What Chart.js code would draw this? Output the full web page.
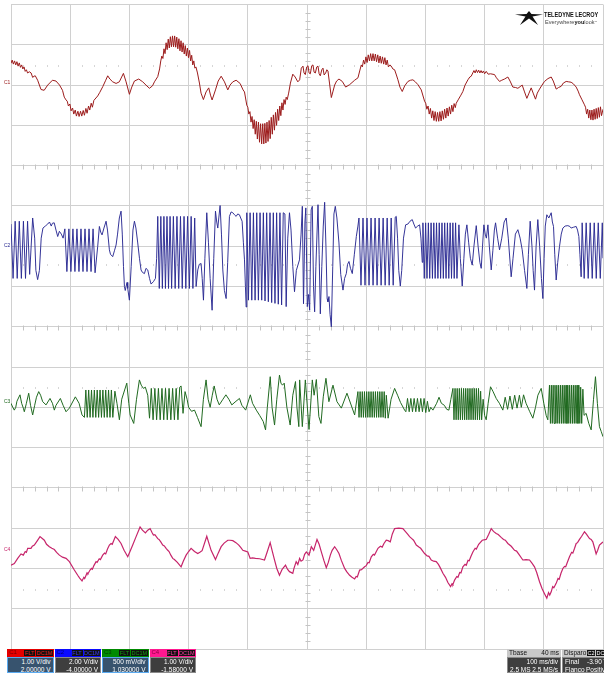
<!DOCTYPE html>
<html><head><meta charset="utf-8">
<script src="https://cdn.jsdelivr.net/npm/chart.js@4.4.1/dist/chart.umd.min.js"></script>
<style>
html,body{margin:0;padding:0;background:#fff;width:604px;height:675px;overflow:hidden;font-family:"Liberation Sans",Arial,sans-serif;}
#wrap{position:absolute;left:0;top:0;width:604px;height:652px;}
.chl{position:absolute;left:4px;font-size:5px;line-height:5px;}
.box{position:absolute;top:649px;height:25px;}
.hd{position:absolute;left:0;right:0;top:0;height:7.5px;font-size:6px;line-height:7.5px;}
.hd .cn{position:absolute;left:2px;top:0;}
.hd .tag{position:absolute;top:0.5px;height:6.5px;line-height:6.5px;background:#111;text-align:center;font-size:5.5px;}
.bd{position:absolute;left:0;right:0;top:7.5px;height:16px;color:#fff;font-size:6.5px;line-height:7.5px;box-sizing:border-box;padding:0.5px 2px 0 2px;}
.bd .r{text-align:right;}
.row{position:relative;height:7.5px;}
.row .l{position:absolute;left:0;}
.row .rr{position:absolute;right:0;}
#logo{position:absolute;left:515px;top:11px;width:90px;height:16px;}
#logo .t1{position:absolute;left:29px;top:0;font-weight:bold;font-size:7.5px;line-height:7.5px;color:#111;transform:scaleX(0.74);transform-origin:left top;white-space:nowrap;}
#logo .t2{position:absolute;left:30px;top:7.5px;font-size:6.2px;line-height:6.5px;color:#444;white-space:nowrap;transform:scaleX(0.9);transform-origin:left top;}
</style>
</head>
<body>
<div id="wrap"><canvas id="c" width="604" height="652"></canvas></div>
<div id="labels"></div>
<div id="logo">
<svg width="28" height="15" viewBox="0 0 28 15" style="position:absolute;left:0;top:0">
<polygon fill="#111" points="14,0 16.5,3 28,3.6 17.5,5.6 23,14 14,7.5 5,14 10.5,5.6 0,3.6 11.5,3"/>
</svg>
<div class="t1">TELEDYNE LECROY</div>
<div class="t2">Everywhere<b style="color:#111">you</b>look<span style="font-size:3px;vertical-align:top">™</span></div>
</div>
<div id="boxes"></div>
<script>
// ---- channel settings (text in the info boxes) ----
const channelNames = ['C1', 'C2', 'C3', 'C4'];
const voltsPerDiv = ['1.00 V/div', '2.00 V/div', '500 mV/div', '1.00 V/div'];
const offsets = ['2.00000 V', '-4.00000 V', '1.030000 V', '-1.58000 V'];
const coupling = ['FLT', 'DC1M'];
const timebase = ['Tbase', '40 ms', '100 ms/div', '2.5 MS', '2.5 MS/s'];
const trigger = ['Disparo', 'C2', 'DC', 'Final', '-3.90 V', 'Flanco', 'Positivo'];

// ---- traces: [time ms, level in divisions from the channel's centre line] ----
const c1 = [
[0,0.54],[2,0.62],[4,0.52],[6,0.6],[8,0.5],[10,0.58],[12,0.47],[14,0.55],[16,0.44],[18,0.5],[20,0.4],[22,0.45],[24,0.34],[26,0.38],[28,0.3],[31,0.33],[34,0.3],[36.6,0.19],[39,0.22],[41,0.23],[45,0.12],[50.7,-0.11],[56,-0.13],[62,0],[70,0.12],[76,0.1],[82,0],[87,-0.13],[90,-0.3],[93,-0.37],
[95,-0.4],[97,-0.52],[99.5,-0.47],[101.5,-0.64],[104,-0.57],[106,-0.72],[108.5,-0.62],[110.5,-0.77],[113,-0.65],[115,-0.78],[117.5,-0.65],[119.5,-0.77],[122,-0.63],[124,-0.75],[126.5,-0.58],[128.5,-0.7],[131,-0.52],[133,-0.62],[135.5,-0.45],[137.5,-0.55],[140,-0.38],
[146.5,-0.27],[150,-0.18],[155,-0.04],[160,0.12],[163.4,0.23],[167,0.15],[171.8,0.08],[177.5,0.04],[183,0.08],[189.9,0.29],[194.4,0.08],[200,-0.23],[204,-0.05],[208.5,0.1],[215.8,0.15],[222.5,0.08],[228,0],[233.8,-0.08],[239,-0.02],[242.3,0.08],[247.9,0.21],[251,0.4],
[253,0.6],[254.8,0.72],[256.6,0.66],[258.4,0.9],[260.2,0.78],[262,1.05],[263.8,0.88],[265.6,1.14],[267.4,0.92],[269.2,1.2],[271,0.95],[272.8,1.22],[274.6,0.95],[276.4,1.22],[278.2,0.94],[280,1.19],[281.8,0.9],[283.6,1.15],[285.4,0.85],[287.2,1.1],[289,0.82],[290.8,1.05],[292.6,0.77],[294.4,0.98],[296.2,0.72],[298,0.92],[299.8,0.68],[301.6,0.86],[303.4,0.6],[305.2,0.74],[307,0.5],[308.8,0.6],[310.6,0.42],[312.4,0.45],
[315,0.3],[318.3,0.05],[321,-0.2],[325,-0.36],[329.5,-0.17],[334,-0.07],[337,-0.25],[339.7,-0.37],[345.4,-0.12],[350,0.1],[355,0.22],[360.6,0.08],[366.2,-0.12],[370,0],[374.7,0.08],[380.3,0.12],[387,0.04],[392,-0.12],[394.4,-0.17],[398.3,-0.5],
[400,-0.55],[401.8,-0.72],[403.6,-0.66],[405.4,-0.92],[407.2,-0.78],[409,-1.08],[410.8,-0.86],[412.6,-1.22],[414.4,-0.9],[416.2,-1.34],[418,-0.92],[419.8,-1.42],[421.6,-0.96],[423.4,-1.46],[425.2,-0.96],[427,-1.46],[428.8,-0.95],[430.6,-1.44],[432.4,-0.92],[434.2,-1.4],[436,-0.88],[437.8,-1.33],[439.6,-0.8],[441.4,-1.22],[443.2,-0.74],[445,-1.12],[446.8,-0.68],[448.6,-1.0],[450.4,-0.6],[452.2,-0.88],[454,-0.52],[455.8,-0.76],[457.6,-0.44],[459.4,-0.62],[461.2,-0.36],[463,-0.48],[464.8,-0.3],[466.6,-0.36],
[469,-0.2],[472,0.05],[476,0.27],[480,0.2],[484.5,0.08],[487.6,0.13],
[490.4,0.42],[493.2,0.47],[495,0.3],[497.2,0.26],[499.5,0.45],[501.7,0.48],[503.5,0.3],[505.6,0.28],[508,0.48],[510.1,0.5],[512,0.32],[514.1,0.3],[516.5,0.45],[518.6,0.47],[520.5,0.28],[522.5,0.23],[525,0.38],[527,0.42],[529,0.25],[531.5,0.3],[533.5,0.38],[535.4,0.35],[538,0.05],[541.1,-0.31],[544,-0.15],[546.7,0.0],[550,0.1],[554,0.15],[559.6,0.09],[565.3,-0.05],[572,0.01],[580.5,0.12],[586.1,0.18],[589,0.35],[591.7,0.5],
[593.5,0.45],[595.5,0.62],[597.5,0.52],[599.5,0.7],[601.5,0.56],[603.5,0.75],[605.5,0.6],[607.5,0.78],[609.5,0.6],[611.5,0.78],[613.5,0.6],[615.5,0.77],[617.5,0.58],[619.5,0.75],[621.5,0.55],[623.5,0.72],[625.5,0.54],[627.5,0.7],[629.5,0.52],[631.5,0.68],[633.5,0.5],[635.5,0.62],[637.5,0.45],[640,0.5],
[642.4,0.47],[645,0.4],[648,0.38],[651,0.25],[653.6,0.13],[657,-0.05],[660.9,-0.16],[665,-0.02],[670.5,0.09],[675,0.12],[678.9,0.13],[683,0.08],[687.4,0.01],[693,-0.12],[698.6,-0.4],
[700.5,-0.45],[702.5,-0.6],[704.5,-0.52],[706.5,-0.72],[708.5,-0.58],[710.5,-0.82],[712.5,-0.64],[714.5,-0.88],[716.5,-0.66],[718.5,-0.9],[720.5,-0.68],[722.5,-0.9],[724.5,-0.66],[726.5,-0.89],[728.5,-0.64],[730.5,-0.85],[732.5,-0.6],[734.5,-0.82],[736.5,-0.57],[738.5,-0.77],[740.5,-0.54],[742.5,-0.72],[744.5,-0.5],[746.5,-0.66],[748.5,-0.46],[750.5,-0.56],[752.1,-0.45],
[756,-0.35],[760,-0.25],[763.3,-0.16],[767,0.0],[771.8,0.13],[775,0.2],[777.4,0.22],
[780,0.3],[782,0.36],[784,0.3],[786,0.38],[788,0.31],[790,0.37],[792,0.3],[794,0.36],[796,0.3],[798,0.35],[800,0.28],[802.7,0.34],[806,0.27],[810,0.28],[816.8,0.26],[820,0.18],[825.2,0.09],[829,0.12],[833.7,0.15],[839.3,0.2],[843,0.1],[847.7,-0.05],[852,-0.06],[856.2,-0.08],[860,-0.04],[863.5,0.0],[867,-0.15],[871.4,-0.33],[875,-0.2],[878.7,-0.07],[882,-0.2],[886,-0.35],[889,-0.2],[892.8,-0.1],[897,0.0],[901.2,0.09],[907,0.16],[912.5,0.2],[916,0.1],[921,-0.1],[925,-0.06],[929.4,-0.03],[933,0.05],[937.8,0.09],[942,0.08],[946.2,0.07],[950,0.03],[954.7,-0.05],[958,-0.15],[960.3,-0.24],[964,-0.35],[968.7,-0.49],
[970.5,-0.55],[972.3,-0.72],[974.1,-0.6],[975.9,-0.82],[977.7,-0.62],[979.5,-0.86],[981.3,-0.62],[983.1,-0.87],[984.9,-0.6],[986.7,-0.85],[988.5,-0.58],[990.3,-0.83],[992.1,-0.56],[993.9,-0.8],[995.7,-0.54],[997.5,-0.76],[1000,-0.6]
];

const c2 = [
[0,0.55],[3.5,-0.8],[7,0.62],[10.5,-0.8],[14,0.62],[17.5,-0.8],[21,0.62],[24.5,-0.8],[28,0.62],[31.5,-0.7],[36.6,0.7],[40,0.2],[42,-0.6],[45,-0.83],[48,-0.6],[51,0.2],[54,0.45],[58,0.5],[62,0.55],[65,0.6],[68,0.5],[70,0.57],[73,0.58],[76,0.4],[78.9,0.24],[81.7,0.37],[85,0.3],[88,0.2],[91,0.43],
[94.4,-0.63],[97.8,0.43],[101.2,-0.63],[104.6,0.43],[108,-0.63],[111.4,0.43],[114.8,-0.63],[118.2,0.43],[121.6,-0.63],[125,0.43],[128.4,-0.63],[131.8,0.43],[135.2,-0.63],[138.6,0.43],[142,-0.66],
[146.5,0.0],[149.3,0.49],[151.5,0.35],[153.8,0.28],[157,0.45],[160.6,0.62],[163,0.4],[166.2,-0.09],[168,-0.2],[171.8,-0.26],[175,-0.1],[177.5,0.03],[180,0.3],[183,0.7],[185.9,0.87],[188,0.3],[190,-0.5],[191.6,-1.0],[193,-1.1],[194.4,-1.0],[196,-0.9],[197.2,-1.05],[200,-1.34],[203,-0.5],[206,0.4],[208.5,0.62],[211,0.45],[214.1,0.08],[217,-0.3],[219.7,-0.59],[222,-0.65],[225.4,-0.68],[228,-0.55],[231,-0.59],[234,-0.8],[236.6,-0.94],[240.6,-0.88],[244,-0.8],[246,-0.3],[247.9,0.74],
[250.5,-1.05],[253.1,0.74],[255.7,-1.05],[258.3,0.74],[260.9,-1.05],[263.5,0.74],[266.1,-1.05],[268.7,0.74],[271.3,-1.05],[274.3,0.74],[277.3,-1.05],[280.3,0.74],[283.3,-1.05],[286.3,0.74],[289.3,-1.05],[292.3,0.74],[295.3,-1.05],[298.3,0.74],[301.3,-1.05],[304.3,0.74],[307.3,-1.05],[310.3,0.7],[312.7,-1.0],
[315.5,-0.59],[318,-0.45],[321.1,-0.43],[323,-0.8],[325.1,-1.34],[327.5,-0.3],[330.7,0.83],[333.5,0.1],[336.4,-0.8],[339.7,-1.59],[342.5,-0.3],[345.4,0.87],[347.5,0.6],[349.3,0.45],[351,0.7],[353.2,1.01],[355.5,0.3],[357.8,-0.59],[360.5,-1.1],[363.4,-1.3],[366,-0.4],[369,0.74],[371.8,0.85],[374.7,0.83],[377.5,0.78],[380.3,0.74],[383,0.8],[385.9,0.78],[388,0.7],[390.4,0.62],[392.5,0.1],[394.4,-0.34],[396,-1.0],[397.2,-1.51],
[398.3,0.83],[401.1,-1.34],[403.9,0.83],[406.7,-1.34],[409.5,0.83],[412.3,-1.34],[415.1,0.83],[417.9,-1.34],[420.7,0.83],[423.5,-1.34],[426.3,0.83],[429.1,-1.36],[431.9,0.83],[434.7,-1.38],[437.5,0.83],[440.3,-1.4],[443.1,0.83],[445.9,-1.42],[448.7,0.83],[451.5,-1.44],[454.3,0.83],[457.1,-1.46],[459.9,0.83],[462.7,0.8],[464.8,-1.5],
[467.5,0.2],[470.4,0.83],[473,0.4],[476,-0.5],[478.9,-1.13],[482,-0.6],[487.3,-0.34],[490,0.3],[492.1,0.99],
[494.1,-1.43],[496.5,0.6],[498,0.95],[500.5,-1.5],[502.5,-1.2],[504.5,-1.59],[507,0.9],[509,0.99],[511,-1.0],[512.9,-1.63],[515,-0.5],[518.6,1.03],[520.5,-0.2],[522.5,-1.68],[525,-0.5],[527.5,0.5],[529.8,1.09],[532,0.0],[534,-1.3],[535.4,-1.38],[537.1,-1.25],[539,-1.7],[541.1,-2.0],[543.5,-0.5],[545.5,0.8],[547.8,0.99],[550.5,0.7],[554,0.08],[557,-0.7],[560.8,-1.09],[563.5,-0.8],[566.4,-0.68],[568.5,-0.45],[570.9,-0.38],[573.5,-0.55],[576.5,-0.68],[580,-0.2],[583.3,0.24],[586,0.5],[587.8,0.7],
[591.2,-0.97],[594.6,0.7],[598,-0.97],[601.4,0.7],[604.8,-0.97],[608.2,0.7],[611.6,-0.97],[615,0.7],[618.4,-0.97],[621.8,0.7],[625.2,-0.97],[628.6,0.7],[632,-0.97],[635.4,0.7],[638.8,-0.97],[642.2,0.7],[645.6,-0.97],[649,0.72],[650.8,0.74],[653,0.2],[655,-0.6],[657.6,-0.99],[660,-0.6],[663,0.2],[666.6,0.53],[670.5,0.55],[674,0.62],[677.8,0.66],[680.5,0.55],[683.4,0.45],[687,0.5],[690.2,0.53],[692.5,0.2],[694.7,-0.4],
[695.8,0.58],[698.1,-0.8],[700.4,0.58],[702.7,-0.8],[705,0.58],[707.3,-0.8],[709.6,0.58],[711.9,-0.8],[714.2,0.58],[716.5,-0.8],[718.8,0.58],[721.1,-0.8],[723.4,0.58],[725.7,-0.8],[728,0.58],[730.3,-0.8],[732.6,0.58],[734.9,-0.8],[737.2,0.58],[739.5,-0.8],[741.8,0.58],[744.1,-0.8],[746.4,0.58],[748.7,-0.8],[751,0.58],[753.3,-0.8],[756.6,0.53],
[759,-0.3],[762.2,-0.99],[765,-0.3],[767.5,0.3],[770.1,0.53],[773,0.1],[776,-0.3],[779.1,-0.47],[782,0.0],[785.9,0.51],[789,0.0],[792,-0.4],[794.3,-0.55],[796.5,0.0],[798.8,0.53],[801,0.3],[803,0.2],[805.6,0.53],[808,0.0],[811.2,-0.59],[814,-0.1],[816.5,0.4],[818.5,0.58],[822,0.2],[825.2,-0.09],[829,0.2],[833,0.6],[836.5,0.7],[840,0.2],[844.9,-0.76],[848,-0.3],[852,0.3],[856.2,0.41],[860,0.2],[863.5,-0.09],[867.5,-0.6],[871.4,-1.05],[874,-0.2],[877,0.62],[880,0.0],[882,-0.6],[884.3,-1.09],[887,0.0],[889.9,0.66],[893,0.0],[896,-0.8],[898.4,-1.3],[900.5,-0.3],[902.5,0.5],[905.1,0.78],[908.5,0.7],[912.5,0.83],[914.5,0.6],[916.4,0.49],[918.5,-0.2],[920.9,-0.84],[923.5,-0.4],[926.5,-0.01],[929.5,0.3],[932.2,0.45],[936,0.5],[940.6,0.51],[944,0.49],[946.2,0.45],[950,0.47],[954.7,0.49],[957,0.4],[959.2,0.24],[961,-0.2],[963.1,-0.76],[964.8,0.58],
[968.2,-0.8],[971.6,0.58],[975,-0.8],[978.4,0.58],[981.8,-0.8],[985.2,0.58],[988.6,-0.8],[992,0.58],[995.4,-0.8],[998.8,0.58],[1000,-0.3]
];

const c3 = [
[0,0.1],[3,0.0],[5.6,-0.07],[8,0.0],[10,0.15],[15.2,0.31],[18,0.1],[20.8,-0.02],[22.5,-0.11],[26,0.1],[29.9,0.35],[33,0.05],[36.6,-0.19],[40,0.05],[43,0.25],[46.8,0.39],[50,0.3],[53.5,0.14],[59.2,0.06],[65.9,0.22],[70,0.1],[73.2,-0.07],[76,0.05],[83.4,0.22],[88,0.05],[93,-0.11],[98.6,-0.02],[108.7,0.26],[115,0.1],[120,-0.19],
[124,-0.25],[126.4,0.43],[128.8,-0.25],[131.2,0.43],[133.6,-0.25],[136,0.43],[138.4,-0.25],[140.8,0.43],[143.2,-0.25],[145.6,0.43],[148,-0.25],[150.4,0.43],[152.8,-0.25],[155.2,0.43],[157.6,-0.25],[160,0.43],[162.4,-0.25],[164.8,0.43],[167.2,-0.25],[169.6,0.43],[172,-0.25],[175.5,0.4],
[179,0.1],[183.1,-0.31],[187,0.2],[195.6,0.6],[199,0.1],[201.3,-0.19],[207.3,-0.4],[212,0.2],[216.9,0.68],[220,0.55],[223.6,0.47],[227,0.5],[231,0.3],[234,-0.27],
[237,0.47],[240,-0.31],[243,0.47],[246,-0.31],[249,0.47],[252,-0.31],[255,0.47],[258,-0.31],[261,0.47],[264,-0.31],[267,0.47],[270,-0.31],[273,0.47],[276,-0.31],[279,0.47],[282,-0.31],[285,0.5],[287.3,0.53],[290.6,-0.15],[294,0.39],[297.5,0.2],[300,0.0],[305,-0.1],[310,-0.07],[315,-0.25],[321.1,-0.48],[325,0.2],[329.5,0.68],[333,0.2],[336.4,0.0],[340,0.3],[343.2,0.53],[348,0.2],[351.8,0.06],[358,0.2],[363,0.31],[368,0.2],[373,0.06],[380,0.15],[385.9,0.22],[390,0.05],[396.4,-0.07],[404.3,0.31],[408,0.1],[414.4,-0.07],[420,-0.2],[426,-0.35],[430,-0.56],[433,0.0],[437.9,0.76],[441,0.0],[445.2,-0.44],[449,0.2],[453.5,0.8],[456,0.6],[458.6,0.55],[461.5,0.6],[466,0.0],[471.6,-0.44],[476,0.3],[480.6,0.64],[483,0.0],[486.2,-0.48],
[487.6,0.68],[492.1,-0.48],[497.2,0.68],[503.4,-0.55],[509,0.68],[512,0.3],[515.8,0.69],[520,-0.23],[523.6,-0.4],[527.5,0.26],[532,0.72],[537,0.14],[543.9,0.55],[550.6,0.14],[558,-0.02],[567.5,0.35],[580.5,-0.19],
[586,0.39],[587.9,-0.25],[589.7,0.39],[591.6,-0.25],[593.4,0.39],[595.3,-0.25],[597.1,0.39],[599,-0.25],[600.8,0.39],[602.7,-0.25],[604.5,0.39],[606.4,-0.25],[608.2,0.39],[610.1,-0.25],[611.9,0.39],[613.8,-0.25],[615.6,0.39],[617.5,-0.25],[619.3,0.39],[621.2,-0.25],[623,0.39],[624.9,-0.25],[626.7,0.39],[628.6,-0.25],[630.4,0.39],[632.3,-0.27],[634,0.3],[637,-0.27],[642,0.2],[648,0.47],[653,0.3],[658,0.12],[664.9,-0.07],
[667,-0.11],[669.8,0.22],[672.6,-0.11],[675.4,0.22],[678.2,-0.11],[681,0.22],[683.8,-0.11],[686.6,0.22],[689.4,-0.11],[692.2,0.22],[695,-0.11],[697.8,0.22],[700.6,-0.13],[703.4,0.15],[706.2,-0.11],[709,0.0],[712.7,-0.07],[719,0.1],[723,0.25],[727,0.1],[732,0.05],[736,-0.05],[739.7,-0.07],[743,0.2],
[746.5,0.47],[748.3,-0.31],[750.1,0.47],[751.9,-0.31],[753.7,0.47],[755.5,-0.31],[757.3,0.47],[759.1,-0.31],[760.9,0.47],[762.7,-0.31],[764.5,0.47],[766.3,-0.31],[768.1,0.47],[769.9,-0.31],[771.7,0.47],[773.5,-0.31],[775.3,0.47],[777.1,-0.31],[778.9,0.47],[780.7,-0.31],[782.5,0.47],[784.3,-0.31],[786.1,0.47],[787.9,-0.31],[789.7,0.47],[791.5,-0.31],[793.3,0.4],[795,-0.31],[797.5,0.2],[800,-0.2],[802.7,-0.31],[806,0.1],[810,0.51],[814,0.4],[819.6,0.22],[825,0.1],[830.8,-0.07],[834.8,0.25],[838.8,-0.05],[842.8,0.28],[846.8,-0.05],[850.8,0.3],[854.8,-0.02],[858.8,0.3],[862,0.0],[865.8,0.31],[870,0.1],[876,-0.1],[881.5,-0.27],[886,0.0],[890,0.3],[895.6,0.47],[900,0.1],[904,-0.2],[906.8,-0.31],
[909.6,0.55],[911.2,-0.4],[912.7,0.55],[914.3,-0.4],[915.8,0.55],[917.4,-0.4],[918.9,0.55],[920.5,-0.4],[922,0.55],[923.6,-0.4],[925.1,0.55],[926.7,-0.4],[928.2,0.55],[929.8,-0.4],[931.3,0.55],[932.9,-0.4],[934.4,0.55],[936,-0.4],[937.5,0.55],[939.1,-0.4],[940.6,0.55],[942.2,-0.4],[943.7,0.55],[945.3,-0.4],[946.8,0.55],[948.4,-0.4],[949.9,0.55],[951.5,-0.4],[953,0.55],[954.6,-0.4],[956.1,0.55],[957.7,-0.4],[959.2,0.55],[960.8,-0.4],[962.3,0.5],[964,-0.4],[966,0.45],[968,-0.2],[971.5,-0.15],[976,-0.4],[980,-0.56],[984,0.2],[987.3,0.76],[990.5,0.1],[994,-0.48],[997,-0.6],[1000,-0.73]
];

const c4 = [
[0,0.08],[5.6,0.12],[11.3,0.25],[16.9,0.36],[20.8,0.33],[24,0.42],[26,0.4],[28.2,0.5],[33.8,0.5],[36,0.55],[39.4,0.58],[44,0.68],[49,0.79],[56.3,0.7],[60,0.6],[64.8,0.54],[69,0.5],[73.2,0.47],[77,0.4],[81.7,0.33],[87,0.28],[93,0.25],[98.6,0.17],[103,0.06],[107,-0.04],[112.7,-0.17],[116,-0.24],[120,-0.31],[123,-0.22],[124.5,-0.25],[126.8,-0.17],[128.5,-0.11],[130,-0.13],[133.5,-0.04],[136,0.0],[137.5,-0.02],[140,0.07],[143.7,0.17],[145.5,0.15],[149,0.24],[151,0.22],[154.9,0.33],[158,0.38],[160,0.36],[163,0.48],[166.2,0.58],[169,0.62],[171,0.6],[176.3,0.79],[181,0.72],[185.9,0.62],[191,0.45],[197.2,0.29],[201,0.42],[205.6,0.58],[211.3,0.79],[218,1.03],[222,0.95],[227,0.88],[231,0.95],[235,0.99],[238,0.9],[240.6,0.83],[243,0.84],[247.9,0.74],[250,0.72],[253,0.66],[256.3,0.58],[259,0.56],[262,0.5],[264.8,0.45],[267,0.42],[270,0.33],[273.2,0.25],[276,0.22],[281,0.15],[287.3,0.04],[291,0.18],[295.8,0.33],[300,0.42],[304.2,0.5],[310,0.42],[315.5,0.37],[319,0.4],[322.8,0.44],[330.7,0.8],[338,0.45],[345.4,0.22],[350,0.38],[355,0.54],[360,0.63],[366.2,0.7],[370,0.7],[374.7,0.69],[380,0.64],[384.8,0.58],[388,0.52],[391.6,0.45],[396,0.43],[400,0.41],[404,0.25],[408,0.26],[413,0.25],[420,0.24],[428.2,0.21],[433,0.42],[437.8,0.64],[441,0.45],[445.1,0.21],[449,0.0],[453.5,-0.17],[458,-0.02],[463.7,0.08],[467,-0.02],[470.4,-0.08],[476,-0.12],[478,0.0],[481.7,0.17],[484.5,0.1],[487.6,0.25],[490,0.18],[493.2,0.21],[496,0.35],[498.9,0.41],[503.4,0.33],[507.3,0.54],[511.3,0.45],[516.9,0.72],[520.5,0.6],[524.2,0.41],[528.5,0.2],[532.6,0.02],[536,0.15],[539.4,0.33],[542.5,0.45],[546.7,0.54],[550,0.47],[554,0.37],[558,0.2],[563.6,0.0],[567,-0.08],[572,-0.17],[576,-0.22],[580.5,-0.26],[583,-0.2],[585,-0.21],[588.9,-0.04],[592,-0.03],[597.3,0.04],[600,0.07],[603,0.15],[605,0.14],[608.6,0.29],[612,0.35],[614,0.33],[619.9,0.5],[624,0.55],[627,0.53],[630,0.62],[633.9,0.7],[637,0.69],[640.7,0.66],[644,0.85],[648,0.99],[655,1.0],[662,0.99],[666,0.92],[670,0.85],[673.3,0.79],[677,0.74],[680,0.7],[684.6,0.58],[689,0.53],[692,0.5],[698.6,0.37],[703,0.31],[706,0.3],[709.9,0.21],[714,0.18],[718.3,0.17],[722,0.1],[725,0.02],[729.6,-0.12],[734,-0.22],[738,-0.35],[742.5,-0.45],[745,-0.38],[746.5,-0.4],[749.3,-0.29],[753,-0.2],[755,-0.22],[758,-0.1],[760,-0.11],[763.3,0.04],[767,0.1],[769,0.08],[772,0.2],[774,0.19],[777,0.3],[780.2,0.41],[784,0.5],[786,0.48],[790,0.6],[796,0.7],[802.7,0.72],[807,0.85],[811.2,0.99],[815,0.92],[819.6,0.87],[823,0.84],[828,0.77],[832,0.72],[835,0.7],[839.3,0.62],[845,0.55],[850.6,0.45],[854,0.43],[858,0.35],[864.6,0.21],[870,0.22],[875.9,0.21],[880,0.13],[884.3,0.04],[888,-0.1],[892.8,-0.33],[897,-0.5],[901,-0.62],[905.1,-0.74],[908,-0.6],[910,-0.66],[912.5,-0.58],[915,-0.45],[917,-0.48],[920.9,-0.37],[924,-0.25],[926,-0.27],[929,-0.12],[932.2,0.0],[935,0.05],[937,0.04],[940,0.16],[943.4,0.29],[947,0.4],[949,0.38],[952,0.5],[954.7,0.62],[957,0.64],[960.3,0.72],[964,0.8],[968.7,0.91],[972,0.85],[977.2,0.74],[980,0.72],[982.8,0.66],[985.5,0.52],[988.4,0.36],[991,0.45],[994,0.58],[997,0.62],[1000,0.66]
];

const traces = [c1, c2, c3, c4];
const traceColors = ['#9c1c1c', '#2a2a92', '#216a21', '#c6246a'];
const traceWidths = [1.0, 0.95, 1.0, 1.2];
const centres = [6, 2, -2, -6]; // screen divisions of each channel's centre line

const datasets = traces.map((pts, i) => ({
  label: channelNames[i],
  data: pts.map(p => ({x: p[0], y: centres[i] + p[1]})),
  borderColor: traceColors[i],
  borderWidth: traceWidths[i],
  pointRadius: 0,
  tension: 0,
  fill: false
}));

const scopeGrid = {
  id: 'scopeGrid',
  beforeDatasetsDraw(chart) {
    const {ctx, scales: {x, y}} = chart;
    ctx.save();
    ctx.strokeStyle = '#c4c4c4';
    ctx.lineWidth = 1;
    ctx.beginPath();
    const xc = Math.round(x.getPixelForValue(500)) + 0.5;
    for (let k = -40; k <= 40; k++) {
      if (k % 5 === 0) continue;
      const py = Math.round(y.getPixelForValue(k * 0.2)) + 0.5;
      ctx.moveTo(xc - 2, py); ctx.lineTo(xc + 3, py);
    }
    for (const b of [4, 0, -4]) {
      const py = Math.round(y.getPixelForValue(b)) + 0.5;
      for (let t = 20; t < 1000; t += 20) {
        if (t % 100 === 0) continue;
        const px = Math.round(x.getPixelForValue(t)) + 0.5;
        ctx.moveTo(px, py - 2); ctx.lineTo(px, py + 3);
      }
    }
    ctx.stroke();
    ctx.strokeStyle = '#d6d6d6';
    ctx.beginPath();
    for (const b of [6.5, 1.55, -1.5, -6.5]) {
      const py = Math.round(y.getPixelForValue(b));
      for (let t = 20; t < 1000; t += 20) {
        if (t % 100 === 0) continue;
        const px = Math.round(x.getPixelForValue(t)) + 0.5;
        ctx.moveTo(px, py); ctx.lineTo(px, py + 2);
      }
    }
    ctx.stroke();
    ctx.restore();
  }
};

new Chart(document.getElementById('c'), {
  type: 'line',
  data: {datasets},
  options: {
    responsive: false,
    animation: false,
    devicePixelRatio: 1,
    events: [],
    layout: {padding: {left: 11, top: 4.5, right: 1, bottom: 3}},
    plugins: {legend: {display: false}, tooltip: {enabled: false}},
    scales: {
      x: {
        type: 'linear', min: 0, max: 1000,
        ticks: {display: false, stepSize: 100},
        grid: {color: '#d0d0d0', lineWidth: 1, drawTicks: false},
        border: {display: false},
        afterFit: s => { s.height = 0; }
      },
      y: {
        type: 'linear', min: -8, max: 8,
        ticks: {display: false, stepSize: 1},
        grid: {color: '#d0d0d0', lineWidth: 1, drawTicks: false},
        border: {display: false},
        afterFit: s => { s.width = 0; }
      }
    }
  },
  plugins: [scopeGrid]
});

// channel markers on the left edge
const markerTops = [80, 242.5, 399, 546.5];
const labelsDiv = document.getElementById('labels');
channelNames.forEach((n, i) => {
  const d = document.createElement('div');
  d.className = 'chl';
  d.style.top = markerTops[i] + 'px';
  d.style.color = traceColors[i];
  d.textContent = n;
  labelsDiv.appendChild(d);
});

// info boxes
const headColors = ['#e40000', '#0a0aff', '#008a00', '#ff1890'];
const headText = ['#7a0000', '#00007a', '#003c00', '#8a0040'];
const tagText = ['#e02020', '#3a3aff', '#10a010', '#ff3aa0'];
const bodyColors = ['#37536e', '#3e3e3e', '#37536e', '#3e3e3e'];
const boxLefts = [7, 54.5, 102, 149.5];
const boxesDiv = document.getElementById('boxes');
channelNames.forEach((n, i) => {
  const b = document.createElement('div');
  b.className = 'box';
  b.style.left = boxLefts[i] + 'px';
  b.style.width = '46.5px';
  const sel = (i === 0 || i === 2) ? 'border:1px solid #5aaaf0;' : 'border:1px solid #8a8a8a;';
  b.innerHTML =
    '<div class="hd" style="background:' + headColors[i] + ';color:' + headText[i] + '">' +
    '<span class="cn">' + n + '</span>' +
    '<span class="tag" style="left:17px;width:11px;color:' + tagText[i] + '">' + coupling[0] + '</span>' +
    '<span class="tag" style="left:29px;width:16.5px;color:' + tagText[i] + '">' + coupling[1] + '</span></div>' +
    '<div class="bd" style="background:' + bodyColors[i] + ';' + sel + '">' +
    '<div class="r">' + voltsPerDiv[i] + '</div><div class="r">' + offsets[i] + '</div></div>';
  boxesDiv.appendChild(b);
});
// timebase box
const tb = document.createElement('div');
tb.className = 'box';
tb.style.left = '507px'; tb.style.width = '54px';
tb.innerHTML =
  '<div class="hd" style="background:#c9c9c9;color:#111;font-size:6.5px"><span style="position:absolute;left:2px">' + timebase[0] + '</span><span style="position:absolute;right:2px">' + timebase[1] + '</span></div>' +
  '<div class="bd" style="background:#3e3e3e;border:1px solid #8a8a8a"><div class="row"><span class="rr">' + timebase[2] + '</span></div>' +
  '<div class="row"><span class="l">' + timebase[3] + '</span><span class="rr">' + timebase[4] + '</span></div></div>';
boxesDiv.appendChild(tb);
// trigger box
const tr = document.createElement('div');
tr.className = 'box';
tr.style.left = '562px'; tr.style.width = '62px';
tr.innerHTML =
  '<div class="hd" style="background:#c9c9c9;color:#111;font-size:6.5px"><span style="position:absolute;left:2px">' + trigger[0] + '</span>' +
  '<span class="tag" style="left:25px;width:8px;color:#fff;background:#111">' + trigger[1] + '</span>' +
  '<span class="tag" style="left:34px;width:9px;color:#fff;background:#111">' + trigger[2] + '</span></div>' +
  '<div class="bd" style="background:#3e3e3e;border:1px solid #8a8a8a"><div class="row"><span class="l">' + trigger[3] + '</span><span class="l" style="left:22px">' + trigger[4] + '</span></div>' +
  '<div class="row"><span class="l">' + trigger[5] + '</span><span class="l" style="left:21px">' + trigger[6] + '</span></div></div>';
boxesDiv.appendChild(tr);
</script>
</body></html>
